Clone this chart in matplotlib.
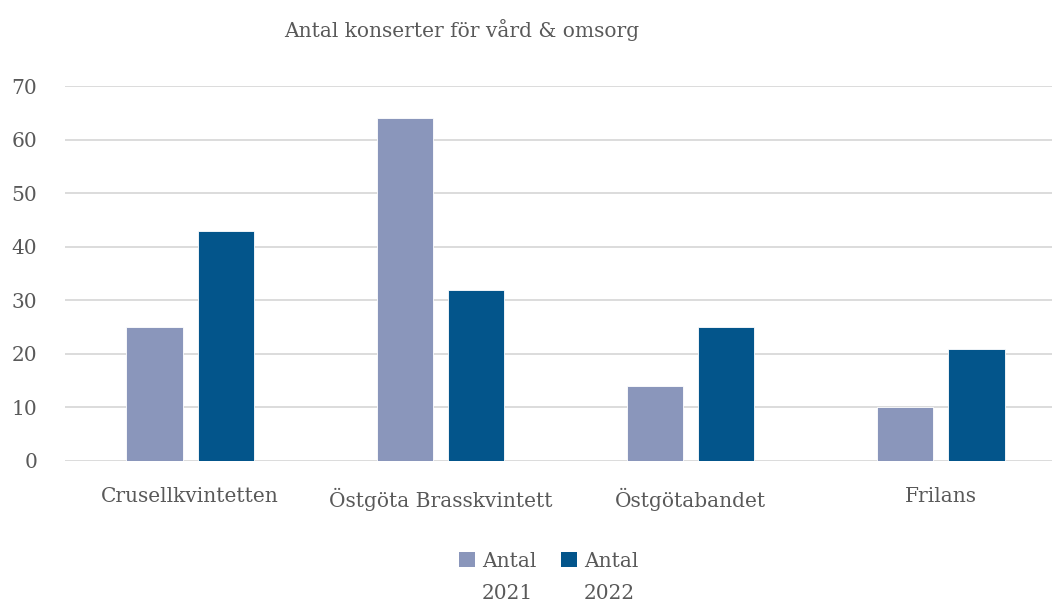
import matplotlib
matplotlib.use("Agg")
import matplotlib.pyplot as plt
import numpy as np
from matplotlib.patches import Rectangle

categories = ["Crusellkvintetten", "Östgöta Brasskvintett", "Östgötabandet", "Frilans"]
values_2021 = [25, 64, 14, 10]
values_2022 = [43, 32, 25, 21]
series_labels = [("Antal", "2021"), ("Antal", "2022")]
yticks = [0, 10, 20, 30, 40, 50, 60, 70]

c1 = "#8A96BB"
c2 = "#03558B"
txt = "#595959"

plt.rcParams['font.family'] = ['DejaVu Serif']

fig = plt.figure(figsize=(10.53, 6.01), dpi=100)
W, H = 1053, 601
left, right = 65, 1052
y0, y70 = 461, 86
ax = fig.add_axes([left / W, 1 - y0 / H, (right - left) / W, (y0 - y70) / H])

x = np.arange(len(categories))
bw = 0.225
ax.bar(x - 0.142, values_2021, bw, color=c1, edgecolor="white", linewidth=0.6, zorder=3)
ax.bar(x + 0.142, values_2022, bw, color=c2, edgecolor="white", linewidth=0.6, zorder=3)

grp = (1066 - 65) / 4.0
ax.set_xlim(-0.5, -0.5 + (right - left) / grp)
ax.set_ylim(0, 70)
ax.set_yticks(yticks)
ax.yaxis.grid(True, color="#D9D9D9", linewidth=1.3, zorder=0)
ax.set_axisbelow(True)
for s in ax.spines.values():
    s.set_visible(False)
ax.tick_params(axis="both", length=0, labelsize=14.5, labelcolor=txt)
ax.tick_params(axis="y", pad=20)
ax.tick_params(axis="x", pad=19)
ax.set_xticks(x)
ax.set_xticklabels(categories)

fig.text(462 / W, 1 - 30 / H, "Antal konserter för vård & omsorg", ha="center", va="center",
         fontsize=14.5, color=txt)

# legend (manual layout)
colors = [c1, c2]
patch_x = [459, 561]
for (l1, l2), col, px in zip(series_labels, colors, patch_x):
    fig.patches.append(Rectangle((px / W, 1 - 567 / H), 16 / W, 15 / H,
                                 transform=fig.transFigure, facecolor=col, edgecolor="none"))
    fig.text((px + 23) / W, 1 - 567 / H, l1, ha="left", va="baseline", fontsize=14.5, color=txt)
    fig.text((px + 23) / W, 1 - 599 / H, l2, ha="left", va="baseline", fontsize=14.5, color=txt)

fig.savefig("out.png", dpi=100)
